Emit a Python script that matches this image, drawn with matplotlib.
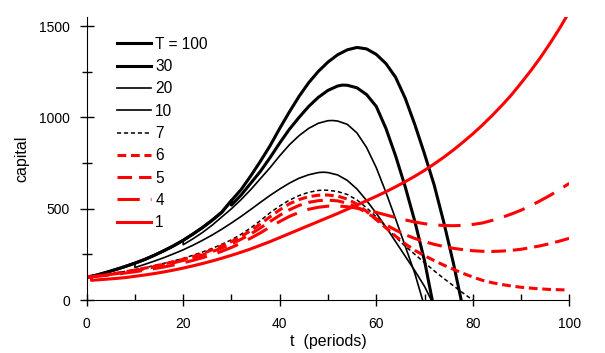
import matplotlib
matplotlib.use("Agg")
import matplotlib.pyplot as plt
from matplotlib.ticker import MultipleLocator

plt.rcParams['font.family'] = ['Liberation Sans', 'DejaVu Sans']
plt.rcParams['lines.scale_dashes'] = False

# capital paths, one per planning period T
t_100 = [0, 2, 4, 6, 8, 10, 12, 14, 16, 18, 20, 22, 24, 26, 28, 30, 32, 34, 36, 38, 40, 42, 44, 46, 48,
         50, 52, 54, 56, 58, 60, 62, 64, 66, 68, 70, 72, 74, 76, 77.6]
k_100 = [125, 136, 151, 167, 184, 202, 222, 245, 270, 297, 327, 361, 397, 437, 481, 545, 605, 680, 760, 845,
         940, 1030, 1115, 1190, 1252, 1303, 1343, 1370, 1383, 1375, 1345, 1295, 1220, 1105, 960, 800, 630,
         425, 200, 0]

t_30 = [0, 2, 4, 6, 8, 10, 12, 14, 16, 18, 20, 22, 24, 26, 28, 30, 30, 32, 34, 36, 38, 40, 42, 44, 46,
        48, 50, 52, 53, 54, 56, 58, 60, 62, 64, 66, 68, 70, 71.6]
k_30 = [125, 136, 151, 167, 184, 202, 222, 245, 270, 297, 327, 361, 397, 437, 481, 545, 520, 575, 640,
        705, 780, 860, 935, 1000, 1060, 1110, 1148, 1172, 1177, 1176, 1162, 1125, 1060, 940, 790, 620,
        430, 215, 0]

t_20 = [0, 2, 4, 6, 8, 10, 12, 14, 16, 18, 20, 20, 22, 24, 26, 28, 30, 32, 34, 36, 38, 40, 42, 44, 46,
        48, 50, 51, 52, 54, 56, 58, 60, 62, 64, 66, 68, 69.6]
k_20 = [125, 136, 151, 167, 184, 202, 222, 245, 270, 297, 327, 303, 335, 370, 410, 455, 500, 550, 605,
        665, 725, 790, 850, 900, 940, 968, 982, 983, 980, 962, 915, 835, 725, 590, 445, 295, 145, 0]

t_10 = [0, 2, 4, 6, 8, 10, 10, 12, 14, 16, 18, 20, 22, 24, 26, 28, 30, 32, 34, 36, 38, 40, 42, 44, 46,
        48, 49, 50, 52, 54, 56, 58, 60, 62, 64, 66, 68, 70, 71.4]
k_10 = [125, 136, 151, 167, 184, 202, 178, 195, 213, 232, 253, 275, 300, 327, 356, 388, 422, 458, 496,
        535, 573, 608, 640, 667, 686, 698, 700, 698, 685, 655, 608, 545, 475, 400, 320, 240, 160, 75, 0]

t_7 = [0, 2, 4, 6, 8, 10, 12, 14, 16, 18, 20, 22, 24, 26, 28, 30, 32, 34, 36, 38, 40, 42, 44, 46, 48, 49,
       50, 52, 54, 56, 58, 60, 62, 64, 66, 68, 70, 72, 74, 76, 78, 80]
k_7 = [125, 132, 140, 148, 157, 167, 177, 189, 201, 214, 228, 245, 263, 283, 305, 330, 360, 395, 435, 478,
       515, 547, 572, 590, 600, 602, 601, 594, 578, 548, 505, 455, 400, 345, 295, 250, 205, 160, 118, 78,
       38, 0]

t_6 = [0, 2, 4, 6, 8, 10, 12, 14, 16, 18, 20, 22, 24, 26, 28, 30, 32, 34, 36, 38, 40, 42, 44, 46, 48, 49,
       50, 52, 54, 56, 58, 60, 62, 64, 66, 68, 70, 72, 74, 76, 78, 80, 82, 84, 86, 88, 90, 93, 96, 100]
k_6 = [125, 131, 138, 146, 155, 164, 174, 185, 197, 210, 223, 238, 255, 275, 297, 320, 348, 380, 417, 456,
       494, 527, 550, 566, 574, 575, 575, 569, 553, 525, 485, 440, 395, 350, 308, 272, 243, 216, 191, 168,
       146, 126, 108, 95, 85, 77, 70, 63, 58, 55]

t_5 = [0, 2, 4, 6, 8, 10, 12, 14, 16, 18, 20, 22, 24, 26, 28, 30, 32, 34, 36, 38, 40, 42, 44, 46, 48, 50,
       52, 54, 56, 58, 60, 62, 64, 66, 68, 70, 72, 74, 76, 78, 80, 82, 84, 86, 88, 90, 92, 94, 96, 98, 100]
k_5 = [125, 131, 137, 144, 152, 161, 171, 181, 192, 204, 217, 231, 247, 265, 285, 307, 333, 362, 395, 430,
       464, 494, 518, 535, 544, 547, 543, 530, 508, 478, 445, 412, 383, 358, 337, 320, 305, 293, 283, 276,
       270, 267, 266, 268, 272, 278, 287, 297, 309, 323, 338]

t_4 = [0, 2, 4, 6, 8, 10, 12, 14, 16, 18, 20, 22, 24, 26, 28, 30, 32, 34, 36, 38, 40, 42, 44, 46, 48, 50,
       52, 54, 56, 58, 60, 62, 64, 66, 68, 70, 72, 74, 76, 78, 80, 82, 84, 86, 88, 90, 92, 94, 96, 98, 100]
k_4 = [125, 130, 135, 141, 148, 155, 163, 172, 181, 192, 204, 217, 232, 248, 267, 288, 312, 339, 368, 400,
       430, 458, 480, 497, 508, 514, 515, 511, 503, 492, 480, 466, 452, 439, 427, 418, 412, 408, 407, 409,
       414, 422, 436, 452, 471, 492, 516, 544, 573, 605, 639]

t_1 = [0, 1, 1, 2, 4, 6, 8, 10, 12, 14, 16, 18, 20, 22, 24, 26, 28, 30, 32, 34, 36, 38, 40, 42, 44, 46, 48,
       50, 52, 54, 56, 58, 60, 62, 64, 66, 68, 70, 72, 74, 76, 78, 80, 82, 84, 86, 88, 90, 92, 94, 96, 98, 100]
k_1 = [125, 125, 108, 110, 114, 118, 123, 130, 137, 145, 154, 164, 175, 187, 200, 214, 229, 245, 262, 280,
       300, 320, 342, 364, 386, 408, 430, 452, 474, 497, 520, 544, 568, 593, 620, 648, 678, 710, 745, 782,
       822, 865, 910, 958, 1010, 1065, 1123, 1188, 1255, 1327, 1405, 1488, 1578]

labels = ['T = 100', '30', '20', '10', '7', '6', '5', '4', '1']
paths = [(t_100, k_100), (t_30, k_30), (t_20, k_20), (t_10, k_10), (t_7, k_7),
         (t_6, k_6), (t_5, k_5), (t_4, k_4), (t_1, k_1)]
styles = [
    dict(color='black', lw=2.2, ls='-'),
    dict(color='black', lw=2.2, ls='-'),
    dict(color='black', lw=1.2, ls='-'),
    dict(color='black', lw=1.2, ls='-'),
    dict(color='black', lw=1.1, ls=(0, (3.0, 2.0))),
    dict(color='red', lw=2.2, ls=(0, (6.3, 3.4))),
    dict(color='red', lw=2.2, ls=(0, (10.5, 5.0))),
    dict(color='red', lw=2.2, ls=(0, (16.0, 8.0))),
    dict(color='red', lw=2.2, ls='-'),
]

fig = plt.figure(figsize=(6.05, 3.53), dpi=100)
ax = fig.add_axes([0.1433, 0.150, 0.7977, 0.802])

for (t, k), st, lab in zip(paths, styles, labels):
    ax.plot(t, k, label=lab, solid_joinstyle='round', **st)

ax.set_xlim(0, 100)
ax.set_ylim(0, 1550)
for s in ['top', 'right']:
    ax.spines[s].set_visible(False)

ax.xaxis.set_major_locator(MultipleLocator(20))
ax.xaxis.set_minor_locator(MultipleLocator(10))
ax.yaxis.set_major_locator(MultipleLocator(500))
ax.yaxis.set_minor_locator(MultipleLocator(250))
ax.tick_params(axis='x', which='major', direction='inout', length=9, width=1, pad=8, labelsize=10)
ax.tick_params(axis='x', which='minor', direction='in', length=4, width=1)
ax.tick_params(axis='y', which='major', direction='inout', length=10, width=1, pad=7, labelsize=10)
ax.tick_params(axis='y', which='minor', direction='inout', length=7.5, width=1)

ax.set_xlabel('t  (periods)', fontsize=11.5, labelpad=2)
ax.set_ylabel('capital', fontsize=11.5, labelpad=7)

ax.legend(loc='upper left', bbox_to_anchor=(0.063, 0.93), frameon=False, fontsize=11.2,
          handlelength=2.15, handletextpad=0.3, labelspacing=0.47, borderpad=0, borderaxespad=0)

fig.savefig('out.png', dpi=100)
